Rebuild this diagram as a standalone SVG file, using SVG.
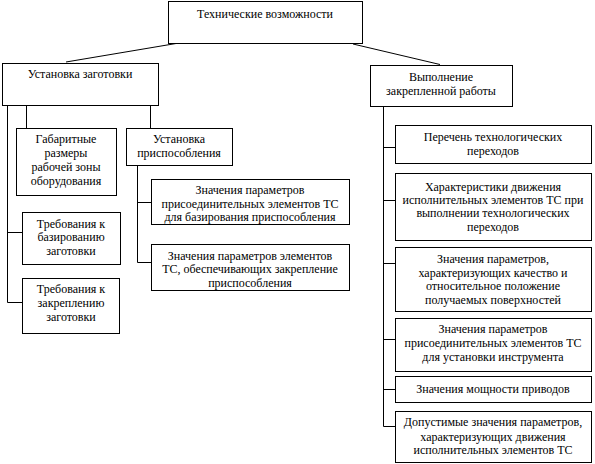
<svg xmlns="http://www.w3.org/2000/svg" width="595" height="464" viewBox="0 0 595 464">
<style>
rect{fill:#fff;stroke:#000;stroke-width:1}
line,path{stroke:#000;stroke-width:1;fill:none}
text{font-family:'Liberation Serif',Tinos,'Times New Roman','Noto Serif','DejaVu Serif',FreeSerif,serif;font-size:12px;fill:#000;text-anchor:middle}
</style>
<rect x="0" y="0" width="595" height="464" style="stroke:none"/>
<g id="connectors">
<line x1="176" y1="43.5" x2="66" y2="62"/>
<line x1="353" y1="44" x2="440" y2="64.5"/>
<path d="M7.5 105V302.5H22M7.5 232.5H22"/>
<path d="M26.5 105V128"/>
<path d="M150.5 105V128"/>
<path d="M137.5 165V262.5H151M137.5 202.5H151"/>
<path d="M383.5 107V426.5H395M383.5 147.5H395M383.5 200.5H395M383.5 263.5H395M383.5 339.5H395M383.5 389.5H395"/>
</g>
<g id="n-top"><rect x="168.5" y="1.5" width="194" height="42"/><text x="265" y="18">Технические возможности</text></g>
<g id="n-ustanovka-zag"><rect x="2.5" y="63.5" width="156" height="42"/><text x="80" y="78">Установка заготовки</text></g>
<g id="n-vypolnenie"><rect x="370.5" y="65.5" width="142" height="41"/><text x="441" y="81">Выполнение</text><text x="441" y="95">закрепленной работы</text></g>
<g id="n-gabarit"><rect x="16.5" y="128.5" width="100" height="67"/><text x="66" y="143">Габаритные</text><text x="66" y="157">размеры</text><text x="66" y="171">рабочей зоны</text><text x="66" y="185">оборудования</text></g>
<g id="n-trebov-baz"><rect x="22.5" y="212.5" width="98" height="52"/><text x="71" y="228">Требования к</text><text x="71" y="241">базированию</text><text x="71" y="255">заготовки</text></g>
<g id="n-trebov-zakr"><rect x="22.5" y="278.5" width="97" height="55"/><text x="71" y="293">Требования к</text><text x="71" y="307">закреплению</text><text x="71" y="321">заготовки</text></g>
<g id="n-ust-prisp"><rect x="126.5" y="128.5" width="106" height="37"/><text x="179" y="143">Установка</text><text x="179" y="157">приспособления</text></g>
<g id="n-baz-prisp"><rect x="151.5" y="179.5" width="198" height="45"/><text x="250" y="194">Значения параметров</text><text x="250" y="208">присоединительных элементов ТС</text><text x="250" y="221">для базирования приспособления</text></g>
<g id="n-zakr-prisp"><rect x="151.5" y="244.5" width="198" height="46"/><text x="250" y="260">Значения параметров элементов</text><text x="250" y="273">ТС, обеспечивающих закрепление</text><text x="250" y="287">приспособления</text></g>
<g id="n-perechen"><rect x="395.5" y="125.5" width="196" height="38"/><text x="493" y="141">Перечень технологических</text><text x="493" y="155">переходов</text></g>
<g id="n-harakt"><rect x="395.5" y="173.5" width="196" height="67"/><text x="493" y="191">Характеристики движения</text><text x="493" y="204">исполнительных элементов ТС при</text><text x="493" y="217">выполнении технологических</text><text x="493" y="231">переходов</text></g>
<g id="n-kachestvo"><rect x="395.5" y="247.5" width="196" height="64"/><text x="493" y="263">Значения параметров,</text><text x="493" y="277">характеризующих качество и</text><text x="493" y="290">относительное положение</text><text x="493" y="304">получаемых поверхностей</text></g>
<g id="n-instrument"><rect x="395.5" y="318.5" width="196" height="53"/><text x="493" y="333">Значения параметров</text><text x="493" y="347">присоединительных элементов ТС</text><text x="493" y="361">для установки инструмента</text></g>
<g id="n-moshchnost"><rect x="395.5" y="376.5" width="196" height="26"/><text x="493" y="393">Значения мощности приводов</text></g>
<g id="n-dopustimye"><rect x="395.5" y="411.5" width="196" height="51"/><text x="493" y="426">Допустимые значения параметров,</text><text x="493" y="441">характеризующих движения</text><text x="493" y="454">исполнительных элементов ТС</text></g>
</svg>
